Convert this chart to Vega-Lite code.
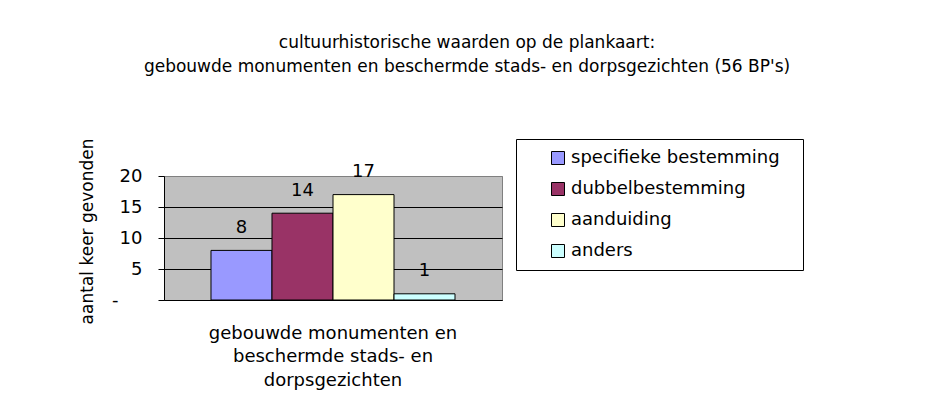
{
  "$schema": "https://vega.github.io/schema/vega-lite/v6.json",
  "width": 338,
  "height": 124,
  "autosize": {"type": "none"},
  "padding": {"left": 164, "top": 176, "right": 434, "bottom": 105},
  "background": "white",
  "title": {
    "text": ["cultuurhistorische waarden op de plankaart:", "gebouwde monumenten en beschermde stads- en dorpsgezichten (56 BP's)"],
    "font": "DejaVu Sans",
    "fontSize": 17,
    "fontWeight": "normal",
    "color": "black",
    "lineHeight": 24.5,
    "anchor": "middle",
    "frame": "group",
    "dx": 134,
    "dy": -62,
    "offset": 0
  },
  "config": {
    "view": {"fill": "#C0C0C0", "stroke": "#808080", "strokeWidth": 1},
    "font": "DejaVu Sans"
  },
  "data": {
    "values": [
      {"categorie": "gebouwde monumenten en beschermde stads- en dorpsgezichten", "type": "specifieke bestemming", "aantal": 8},
      {"categorie": "gebouwde monumenten en beschermde stads- en dorpsgezichten", "type": "dubbelbestemming", "aantal": 14},
      {"categorie": "gebouwde monumenten en beschermde stads- en dorpsgezichten", "type": "aanduiding", "aantal": 17},
      {"categorie": "gebouwde monumenten en beschermde stads- en dorpsgezichten", "type": "anders", "aantal": 1}
    ]
  },
  "encoding": {
    "x": {
      "field": "categorie",
      "type": "nominal",
      "scale": {"paddingInner": 0, "paddingOuter": 0.1926},
      "axis": {
        "title": null,
        "labelAngle": 0,
        "labelExpr": "['gebouwde monumenten en', 'beschermde stads- en', 'dorpsgezichten']",
        "labelFont": "DejaVu Sans",
        "labelFontSize": 18,
        "labelColor": "black",
        "labelLineHeight": 23.5,
        "labelBaseline": "top",
        "labelPadding": 24,
        "labelLimit": 0,
        "ticks": false,
        "tickSize": 0,
        "domainColor": "black",
        "domainWidth": 1
      }
    },
    "xOffset": {
      "field": "type",
      "type": "nominal",
      "sort": ["specifieke bestemming", "dubbelbestemming", "aanduiding", "anders"],
      "scale": {"paddingInner": 0, "paddingOuter": 0}
    },
    "y": {
      "field": "aantal",
      "type": "quantitative",
      "scale": {"domain": [0, 20], "nice": false},
      "axis": {
        "values": [0, 5, 10, 15, 20],
        "title": "aantal keer gevonden",
        "titleFont": "DejaVu Sans",
        "titleFontSize": 17,
        "titleFontWeight": "normal",
        "titleColor": "black",
        "titleAngle": -90,
        "titleAlign": "right",
        "titleBaseline": "alphabetic",
        "titleX": -72,
        "titleY": -38,
        "labelFont": "DejaVu Sans",
        "labelFontSize": 18,
        "labelColor": "black",
        "labelPadding": {"condition": {"test": "datum.value == 0", "value": 40}, "value": 16},
        "labelExpr": "datum.value == 0 ? '-' : datum.label",
        "tickColor": "black",
        "tickSize": 6,
        "domainColor": "black",
        "grid": true,
        "gridColor": {"condition": {"test": "datum.value == 20", "value": "#808080"}, "value": "black"},
        "gridWidth": 1
      }
    }
  },
  "layer": [
    {
      "mark": {"type": "bar", "stroke": "black", "strokeWidth": 1},
      "encoding": {
        "color": {
          "field": "type",
          "type": "nominal",
          "sort": ["specifieke bestemming", "dubbelbestemming", "aanduiding", "anders"],
          "scale": {
            "domain": ["specifieke bestemming", "dubbelbestemming", "aanduiding", "anders"],
            "range": ["#9999FF", "#993366", "#FFFFCC", "#CCFFFF"]
          },
          "legend": {
            "orient": "none",
            "legendX": 352,
            "legendY": -37,
            "title": null,
            "strokeColor": "black",
            "fillColor": "white",
            "padding": 10,
            "labelFont": "DejaVu Sans",
            "labelFontSize": 18,
            "labelColor": "black",
            "labelLimit": 0,
            "symbolType": "square",
            "symbolSize": 169,
            "symbolStrokeColor": "black",
            "symbolStrokeWidth": 1,
            "symbolOpacity": 1,
            "rowPadding": 13,
            "labelOffset": 4,
            "symbolOffset": 23,
            "labelExpr": "datum.label + '\u2800'"
          }
        }
      }
    },
    {
      "mark": {"type": "text", "dy": -22.5, "baseline": "middle", "fontSize": 18, "font": "DejaVu Sans", "color": "black"},
      "encoding": {"text": {"field": "aantal", "type": "quantitative"}}
    }
  ]
}
